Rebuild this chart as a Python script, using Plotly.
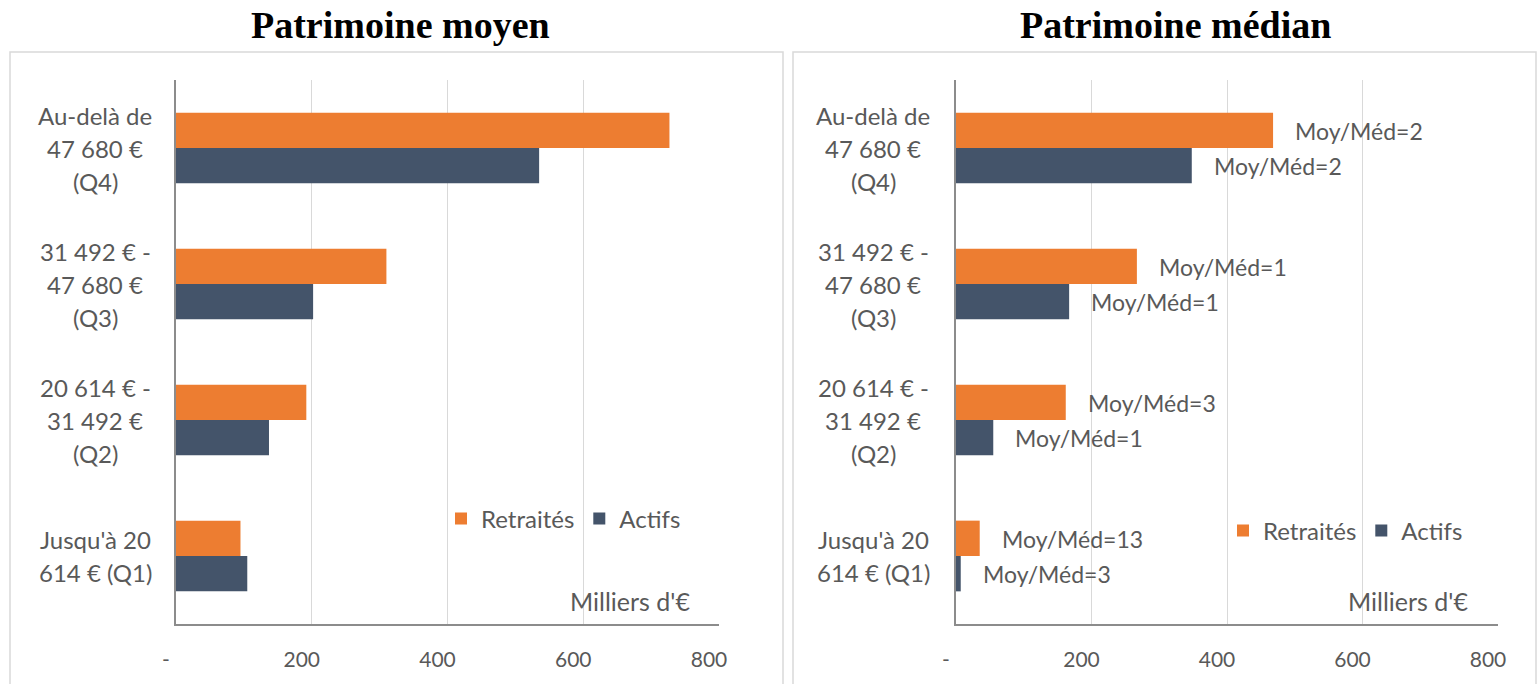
import plotly.graph_objects as go

# ---------------- data ----------------
categories = ["Q1", "Q2", "Q3", "Q4"]
category_lines = [
    ["Jusqu'à 20", "614 € (Q1)"],
    ["20 614 € -", "31 492 €", "(Q2)"],
    ["31 492 € -", "47 680 €", "(Q3)"],
    ["Au-delà de", "47 680 €", "(Q4)"],
]
moyen_retraites = [95, 192, 310, 727]
moyen_actifs = [105, 137, 202, 535]
median_retraites = [35, 162, 267, 468]
median_actifs = [7, 55, 167, 348]
ratio_retraites = ["Moy/Méd=13", "Moy/Méd=3", "Moy/Méd=1", "Moy/Méd=2"]
ratio_actifs = ["Moy/Méd=3", "Moy/Méd=1", "Moy/Méd=1", "Moy/Méd=2"]
tick_vals = [0, 200, 400, 600, 800]
tick_text = ["-", "200", "400", "600", "800"]
titles = ["Patrimoine moyen", "Patrimoine médian"]
series_names = ["Retraités", "Actifs"]
unit_label = "Milliers d'€"

# ---------------- style ----------------
W, H = 1539, 684
ORANGE = "#ED7D31"
NAVY = "#44546A"
TXT = "#595959"
FONT = "Lato"
GRID = "#d9d9d9"
AXIS = "#8c8c8c"

def px_x(p):
    return p / W

def px_y(p):
    return 1 - p / H

fig = go.Figure()

panels = [
    dict(xa="x", ya="y", leg="legend", act=moyen_actifs, ret=moyen_retraites),
    dict(xa="x2", ya="y2", leg="legend2", act=median_actifs, ret=median_retraites),
]
for p in panels:
    fig.add_trace(go.Bar(y=categories, x=p["act"], orientation="h", name=series_names[1],
                         marker=dict(color=NAVY, line=dict(width=0)), xaxis=p["xa"], yaxis=p["ya"],
                         legend=p["leg"], legendrank=2, hoverinfo="x+name"))
    fig.add_trace(go.Bar(y=categories, x=p["ret"], orientation="h", name=series_names[0],
                         marker=dict(color=ORANGE, line=dict(width=0)), xaxis=p["xa"], yaxis=p["ya"],
                         legend=p["leg"], legendrank=1, hoverinfo="x+name"))

ydom = [px_y(624), px_y(80)]
xdom1 = [px_x(176), px_x(719)]
xdom2 = [px_x(956), px_x(1498)]

xcommon = dict(range=[0, 800], tickvals=tick_vals, ticktext=tick_text, showgrid=True,
               gridcolor=GRID, gridwidth=1.3, showline=True, linecolor=AXIS, linewidth=1.5,
               zeroline=False, ticks="", ticklabelshift=-10, ticklabelstandoff=16,
               tickfont=dict(family=FONT, size=21, color=TXT), automargin=False, fixedrange=True)
ycommon = dict(range=[-0.5, 3.5], showticklabels=False, showgrid=False, showline=True,
               linecolor=AXIS, linewidth=1.5, zeroline=False, ticks="", automargin=False,
               fixedrange=True, type="category", categoryorder="array", categoryarray=categories)

fig.update_layout(
    width=W, height=H,
    margin=dict(l=0, r=0, t=0, b=0),
    paper_bgcolor="white", plot_bgcolor="white",
    barmode="group", bargap=0.48, bargroupgap=0,
    xaxis=dict(domain=xdom1, anchor="y", **xcommon),
    yaxis=dict(domain=ydom, anchor="x", **ycommon),
    xaxis2=dict(domain=xdom2, anchor="y2", **xcommon),
    yaxis2=dict(domain=ydom, anchor="x2", **ycommon),
    legend=dict(orientation="h", x=px_x(441), y=px_y(519), xanchor="left", yanchor="middle",
                font=dict(family=FONT, size=24, color=TXT), bgcolor="rgba(0,0,0,0)",
                traceorder="normal", itemclick=False),
    legend2=dict(orientation="h", x=px_x(1223), y=px_y(531), xanchor="left", yanchor="middle",
                 font=dict(family=FONT, size=24, color=TXT), bgcolor="rgba(0,0,0,0)",
                 traceorder="normal", itemclick=False),
    showlegend=True,
)

# frames around each panel
fig.add_shape(type="rect", xref="paper", yref="paper", x0=px_x(10), x1=px_x(783),
              y0=px_y(700), y1=px_y(52), line=dict(color="#d9d9d9", width=1.5), layer="below")
fig.add_shape(type="rect", xref="paper", yref="paper", x0=px_x(793), x1=px_x(1536),
              y0=px_y(700), y1=px_y(52), line=dict(color="#d9d9d9", width=1.5), layer="below")

# titles
for t, cx in zip(titles, [400, 1175]):
    fig.add_annotation(text="<b>%s</b>" % t, xref="paper", yref="paper", x=px_x(cx), y=px_y(25),
                       xanchor="center", yanchor="middle", showarrow=False,
                       font=dict(family="Liberation Serif", size=38, color="black"))

# category labels (centered, multi-line)
LINE = 33
for ya, cx in [("y", 95), ("y2", 873)]:
    for cat, lines in zip(categories, category_lines):
        n = len(lines)
        for k, ln in enumerate(lines):
            fig.add_annotation(text=ln, xref="paper", yref=ya, x=px_x(cx), y=cat,
                               yshift=((n - 1) / 2 - k) * LINE, xanchor="center", yanchor="middle",
                               showarrow=False, font=dict(family=FONT, size=24, color=TXT))

# unit labels
for xr in [692, 1470]:
    fig.add_annotation(text=unit_label, xref="paper", yref="paper", x=px_x(xr), y=px_y(601),
                       xanchor="right", yanchor="middle", showarrow=False,
                       font=dict(family=FONT, size=25, color=TXT))

# ratio labels on the median panel
for cat, v, t in zip(categories, median_retraites, ratio_retraites):
    fig.add_annotation(text=t, xref="x2", yref="y2", x=v, y=cat, xshift=20, yshift=17,
                       xanchor="left", yanchor="middle", showarrow=False,
                       font=dict(family=FONT, size=23, color=TXT))
for cat, v, t in zip(categories, median_actifs, ratio_actifs):
    fig.add_annotation(text=t, xref="x2", yref="y2", x=v, y=cat, xshift=20, yshift=-18,
                       xanchor="left", yanchor="middle", showarrow=False,
                       font=dict(family=FONT, size=23, color=TXT))

fig.write_html("out.html", config={"displayModeBar": False},
               post_script="document.body.style.margin='0';document.body.style.overflow='hidden';")
